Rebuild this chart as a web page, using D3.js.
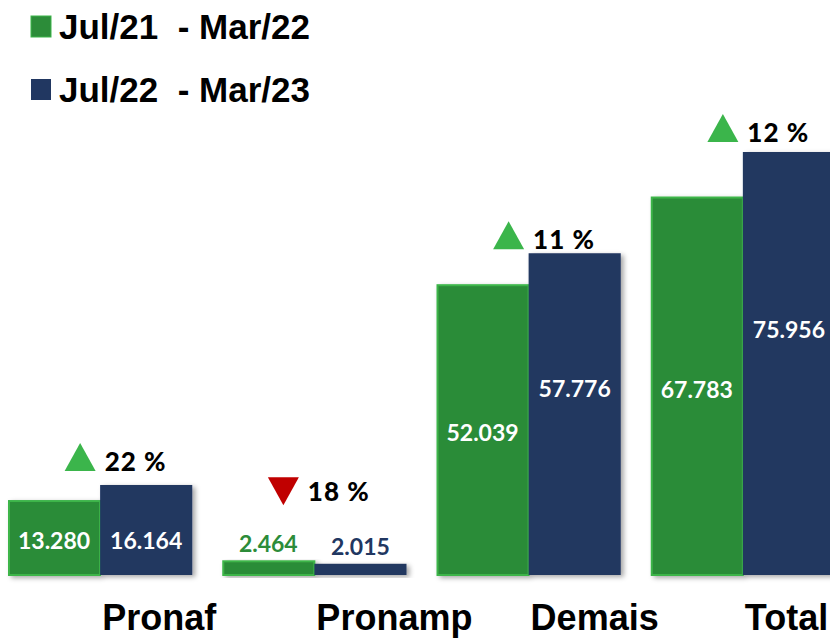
<!DOCTYPE html>
<html lang="pt">
<head>
<meta charset="UTF-8" />
<title>Crédito rural</title>
<script src="https://d3js.org/d3.v7.min.js"></script>
<style>
  body { margin: 0; background: #fff; }
  svg { display: block; }
</style>
</head>
<body>
<div id="chart"></div>
<script>
var w = 830;
var h = 639;

// data
var categories = ["Pronaf", "Pronamp", "Demais", "Total"];
var seriesNames = ["Jul/21 - Mar/22", "Jul/22 - Mar/23"];
var prevValues = [13.280, 2.464, 52.039, 67.783];
var currValues = [16.164, 2.015, 57.776, 75.956];
var valueLabelsPrev = ["13.280", "2.464", "52.039", "67.783"];
var valueLabelsCurr = ["16.164", "2.015", "57.776", "75.956"];
var changeLabels = ["22 %", "18 %", "11 %", "12 %"];
var changeUp = [true, false, true, true];

var colors = { prev: "#2c8c39", prevEdge: "#3db54a", curr: "#213761", up: "#3bb54b", down: "#c00000" };

var svg = d3.select("#chart").append("svg")
    .attr("width", w)
    .attr("height", h);

var defs = svg.append("defs");
var shadow = defs.append("filter").attr("id", "shadow")
    .attr("x", "-10%").attr("y", "-10%").attr("width", "130%").attr("height", "130%");
shadow.append("feDropShadow")
    .attr("dx", 3).attr("dy", 2).attr("stdDeviation", 2.5)
    .attr("flood-color", "#000").attr("flood-opacity", 0.35);

var baseY = 575;
var yScale = d3.scaleLinear().domain([0, 75.956]).range([baseY, 152]);

var x0 = d3.scaleBand().domain(categories).range([8, 835]).paddingInner(0.14);
var x1 = d3.scaleBand().domain(["prev", "curr"]).range([0, x0.bandwidth()]);

var groups = svg.selectAll(".grp")
    .data(categories)
    .enter().append("g")
    .attr("class", "grp")
    .attr("transform", function (d) { return "translate(" + x0(d) + ",0)"; });

// bars (drawn with shadow)
groups.append("g").attr("filter", "url(#shadow)").each(function (d, i) {
    var g = d3.select(this);
    g.append("rect")
        .attr("x", x1("prev") + 1)
        .attr("y", yScale(prevValues[i]))
        .attr("width", x1.bandwidth() - 1)
        .attr("height", baseY - yScale(prevValues[i]))
        .attr("fill", colors.prev)
        .attr("stroke", colors.prevEdge)
        .attr("stroke-width", 2);
    g.append("rect")
        .attr("x", x1("curr"))
        .attr("y", yScale(currValues[i]))
        .attr("width", x1.bandwidth())
        .attr("height", baseY - yScale(currValues[i]))
        .attr("fill", colors.curr);
});

// value labels
var valFont = "Lato, 'Open Sans', sans-serif";
groups.each(function (d, i) {
    var g = d3.select(this);
    var hPrev = baseY - yScale(prevValues[i]);
    var small = hPrev < 40;
    var inside = !small && hPrev < 100;
    var yPrev, yCurr, fillPrev, fillCurr;
    if (small) {
        yPrev = yScale(prevValues[i]) - 18;
        yCurr = yScale(currValues[i]) - 17;
        fillPrev = colors.prev; fillCurr = colors.curr;
    } else if (inside) {
        var m = yScale(Math.min(prevValues[i], currValues[i]) * 0.47);
        yPrev = m; yCurr = m;
        fillPrev = "#fff"; fillCurr = "#fff";
    } else {
        yPrev = yScale(prevValues[i] * 0.49);
        yCurr = yScale(currValues[i] * 0.58);
        fillPrev = "#fff"; fillCurr = "#fff";
    }
    g.append("text")
        .attr("x", x1("prev") + x1.bandwidth() / 2)
        .attr("y", yPrev)
        .attr("dy", "0.36em")
        .attr("text-anchor", "middle")
        .style("font-family", valFont).style("font-weight", "bold").style("font-size", "23px")
        .attr("fill", fillPrev)
        .text(valueLabelsPrev[i]);
    g.append("text")
        .attr("x", x1("curr") + x1.bandwidth() / 2)
        .attr("y", yCurr)
        .attr("dy", "0.36em")
        .attr("text-anchor", "middle")
        .style("font-family", valFont).style("font-weight", "bold").style("font-size", "23px")
        .attr("fill", fillCurr)
        .text(valueLabelsCurr[i]);

    // change indicator
    var top = yScale(Math.max(prevValues[i], currValues[i]));
    var triBottom = small ? top - 56 : top - Math.min(14, 4 + (top > 400 ? 10 : (top < 200 ? 6 : 0)));
    var cx = x1("curr") - (small ? 31 : 20);
    var tw = 31, th = 28;
    var pts = changeUp[i]
        ? [[cx - tw / 2, triBottom], [cx + tw / 2, triBottom], [cx, triBottom - th]]
        : [[cx - tw / 2, triBottom - th], [cx + tw / 2, triBottom - th], [cx, triBottom]];
    g.append("path")
        .attr("d", d3.line()(pts) + "Z")
        .attr("fill", changeUp[i] ? colors.up : colors.down);
    g.append("text")
        .attr("x", cx + tw / 2 + 9)
        .attr("y", changeUp[i] ? triBottom : triBottom - 4)
        .style("font-family", valFont).style("font-weight", "900").style("font-size", "26px")
        .style("letter-spacing", "1px")
        .attr("fill", "#000")
        .text(changeLabels[i]);
});

// category labels
groups.append("text")
    .attr("x", x1("curr") + 2)
    .attr("y", 630)
    .style("font-family", "'Liberation Sans', Arial, sans-serif")
    .style("font-weight", "bold")
    .style("font-size", "36px")
    .attr("fill", "#000")
    .text(function (d) { return d; });

// legend
var legend = svg.append("g").attr("class", "legend");
var legendColors = [colors.prev, colors.curr];
legend.selectAll("rect")
    .data(seriesNames)
    .enter().append("rect")
    .attr("x", 31)
    .attr("y", function (d, i) { return 16 + i * 63; })
    .attr("width", 20)
    .attr("height", 21)
    .attr("fill", function (d, i) { return legendColors[i]; })
    .attr("stroke", function (d, i) { return i === 0 ? colors.prevEdge : "none"; })
    .attr("stroke-width", 1);
legend.selectAll("text")
    .data(seriesNames)
    .enter().append("text")
    .attr("x", 59)
    .attr("y", function (d, i) { return 39 + i * 63; })
    .style("font-family", "'Liberation Sans', Arial, sans-serif")
    .style("font-weight", "bold")
    .style("font-size", "35px")
    .style("white-space", "pre")
    .attr("fill", "#000")
    .text(function (d) { return d.replace(" - ", "  - "); });
</script>
</body>
</html>
